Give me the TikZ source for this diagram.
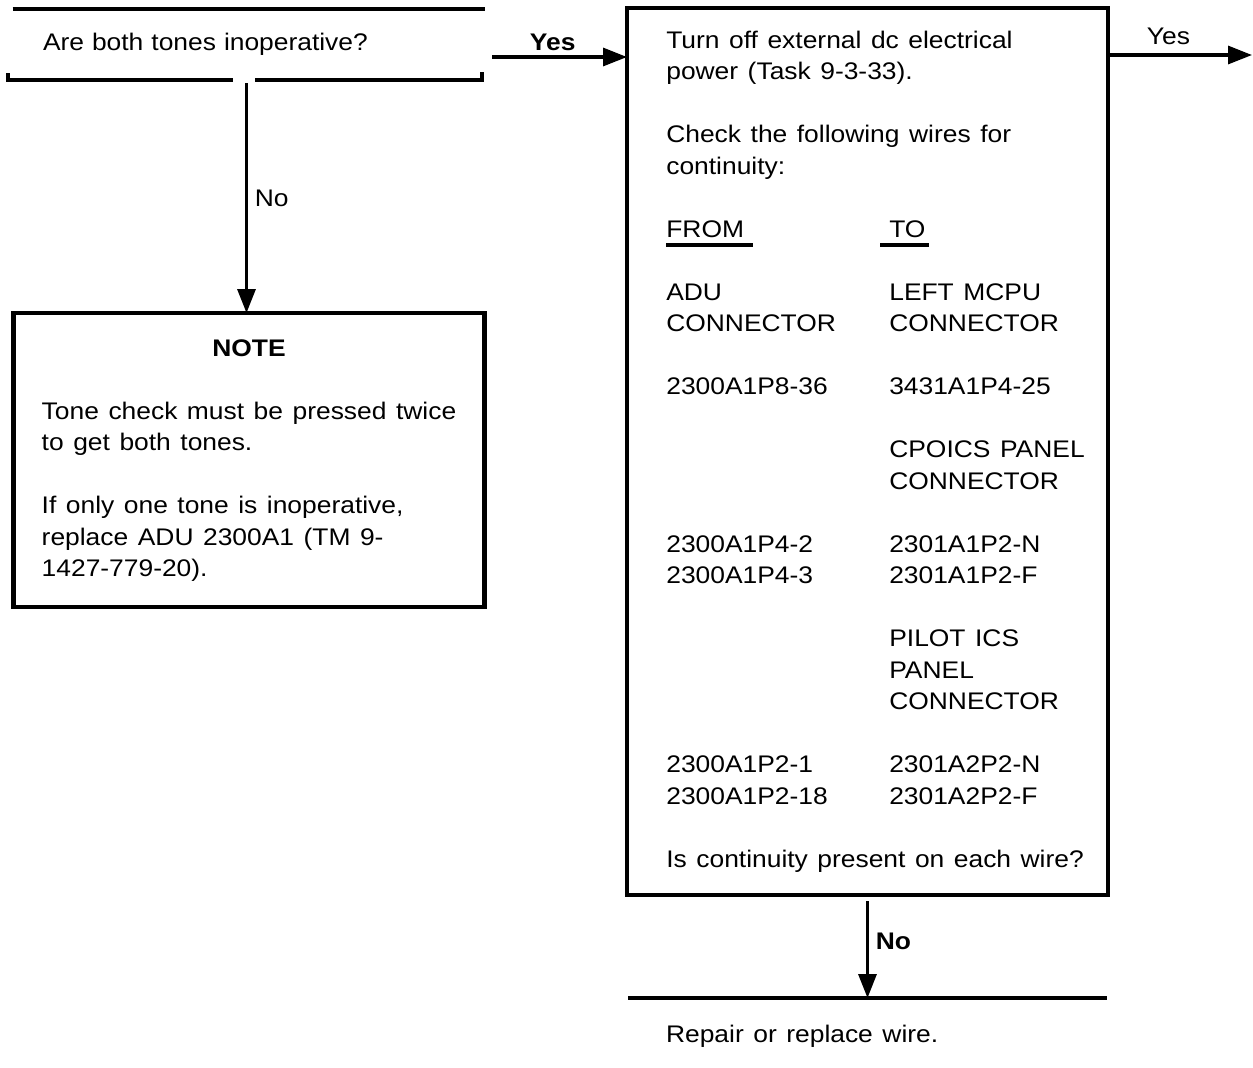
\documentclass[tikz,border=0pt]{standalone}
\usepackage{fontspec}
\setmainfont{Liberation Sans}[FakeStretch=1.1, WordSpace=1.3]
\usepackage{tikz}
\usetikzlibrary{arrows.meta, positioning, calc}
\newcommand{\chartfont}{\fontsize{12}{15.75}\selectfont}
\newcommand{\colhead}[3]{\hspace*{-#1}\rlap{\rule[-4.75pt]{#2}{2pt}}\hspace*{#1}#3}

\begin{document}
\begin{tikzpicture}[x=0.5pt, y=-0.5pt, every node/.style={font=\chartfont},
    box/.style={draw, line width=2.2pt, rectangle, outer sep=0pt},
    barline/.style={line width=2pt},
    arr/.style={-{Triangle[length=12pt, width=9pt]}, line width=1.6pt}]
    \useasboundingbox (0,0) rectangle (1253,1067);

    % Question: both tones
    \node[rectangle, minimum width=238.5pt, minimum height=35.5pt, inner xsep=17.5pt, text width=203.5pt, align=left] (tones) at (246.5,44.5) {Are both tones inoperative?};
    \draw[barline] ([xshift=2.5pt]tones.north west) -- (tones.north east);
    \draw[barline] ([yshift=3.5pt]tones.south west) -- (tones.south west) -- ([xshift=-6.75pt]tones.south);
    \draw[barline] ([xshift=4.25pt]tones.south) -- ([xshift=-1.5pt]tones.south east) -- ++(0,4pt);

    % Note
    \node[box, minimum width=235.5pt, minimum height=147pt] (note) at (249,460) {
        \begin{tabular}{@{}l@{}}
            \multicolumn{1}{@{}c@{}}{\textbf{NOTE}}\\[15.75pt]
            Tone check must be pressed twice\\
            to get both tones.\\[15.75pt]
            If only one tone is inoperative,\\
            replace ADU 2300A1 (TM 9-\\
            1427-779-20).
        \end{tabular}};

    % Continuity check
    \node[box, minimum width=240.5pt, minimum height=443.5pt] (check) at (867.5,451.5) {\hspace*{8pt}%
        \begin{tabular}{@{}p{111.5pt}@{}l@{}}
            \multicolumn{2}{@{}l@{}}{Turn off external dc electrical}\\
            \multicolumn{2}{@{}l@{}}{power (Task 9-3-33).}\\[15.75pt]
            \multicolumn{2}{@{}l@{}}{Check the following wires for}\\
            \multicolumn{2}{@{}l@{}}{continuity:}\\[15.75pt]
            \colhead{0pt}{43.5pt}{FROM} & \colhead{4.5pt}{24.5pt}{TO}\\[15.75pt]
            ADU & LEFT MCPU\\
            CONNECTOR & CONNECTOR\\[15.75pt]
            2300A1P8-36 & 3431A1P4-25\\[15.75pt]
            & CPOICS PANEL\\
            & CONNECTOR\\[15.75pt]
            2300A1P4-2 & 2301A1P2-N\\
            2300A1P4-3 & 2301A1P2-F\\[15.75pt]
            & PILOT ICS\\
            & PANEL\\
            & CONNECTOR\\[15.75pt]
            2300A1P2-1 & 2301A2P2-N\\
            2300A1P2-18 & 2301A2P2-F\\[15.75pt]
            \multicolumn{2}{@{}l@{}}{Is continuity present on each wire?}
        \end{tabular}};

    % Repair
    \coordinate (repairL) at (628,998);
    \coordinate (repairR) at (1107,998);
    \draw[barline] (repairL) -- (repairR);
    \node[anchor=base west] (repair) at (659,1042) {Repair or replace wire.};

    % Arrows
    \coordinate (yesin) at (492,57);
    \coordinate (yesout) at (1252,55);
    \draw[arr] (yesin) -- (yesin -| check.west) node[pos=0.45, above=-1pt] {\textbf{Yes}};
    \draw[arr] (yesout -| check.east) -- (yesout) node[pos=0.42, above=1pt] {Yes};
    \draw[arr] ([yshift=-1.5pt]tones.south) -- (tones.south |- note.north) node[midway, right] {No};
    \draw[arr] ([yshift=-3pt]check.south) -- (check.south |- repairL) node[pos=0.42, right] {\textbf{No}};
\end{tikzpicture}
\end{document}
